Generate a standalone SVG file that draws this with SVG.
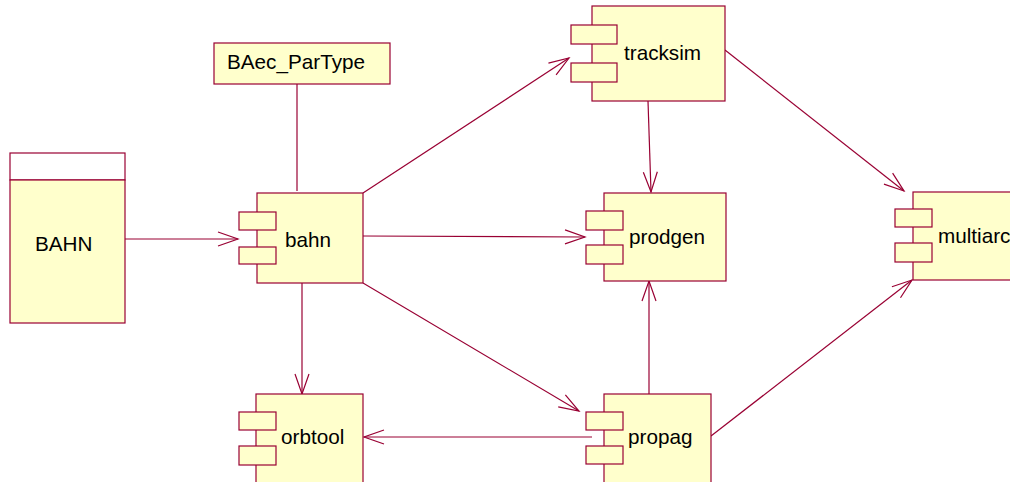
<svg xmlns="http://www.w3.org/2000/svg" width="1010" height="482" viewBox="0 0 1010 482">
<style>
.b{fill:#FFFFCC;stroke:#990033;stroke-width:1.2}
.w{fill:#FFFFFF;stroke:#990033;stroke-width:1.2}
.l{fill:none;stroke:#990033;stroke-width:1.2}
text{font-family:"Liberation Sans",Arial,sans-serif;font-size:20.7px;fill:#000}
</style>
<defs>
<marker id="a" markerUnits="userSpaceOnUse" markerWidth="30" markerHeight="30" viewBox="-25 -15 30 30" refX="0" refY="0" orient="auto" overflow="visible">
<path d="M-20,-7 L0,0 L-20,7" fill="none" stroke="#990033" stroke-width="1.2"/>
</marker>
</defs>
<g id="connectors">
<line class="l" x1="125" y1="239" x2="238" y2="239" marker-end="url(#a)"/>
<line class="l" x1="297" y1="84" x2="297" y2="191"/>
<line class="l" x1="363" y1="193" x2="569" y2="58" marker-end="url(#a)"/>
<line class="l" x1="363" y1="236" x2="585" y2="237" marker-end="url(#a)"/>
<line class="l" x1="363" y1="283" x2="579" y2="411" marker-end="url(#a)"/>
<line class="l" x1="302" y1="283" x2="302" y2="394" marker-end="url(#a)"/>
<line class="l" x1="648" y1="101" x2="651" y2="192" marker-end="url(#a)"/>
<line class="l" x1="725" y1="50" x2="904" y2="191" marker-end="url(#a)"/>
<line class="l" x1="649" y1="394" x2="649" y2="281" stroke-width="2" marker-end="url(#a)"/>
<line class="l" x1="592" y1="437" x2="364" y2="437" marker-end="url(#a)"/>
<line class="l" x1="711" y1="436" x2="912" y2="280" marker-end="url(#a)"/>
</g>
<g id="BAHN">
<rect class="w" x="10" y="153" width="115" height="27"/>
<rect class="b" x="10" y="180" width="115" height="143"/>
<text x="35" y="251">BAHN</text>
</g>
<g id="BAec_ParType">
<rect class="b" x="214" y="43" width="176" height="41"/>
<text x="227" y="69">BAec_ParType</text>
</g>
<g id="bahn">
<rect class="b" x="257" y="193" width="106" height="90"/>
<rect class="b" x="239" y="212" width="37" height="18"/>
<rect class="b" x="239" y="247" width="37" height="17"/>
<text x="285" y="247">bahn</text>
</g>
<g id="tracksim">
<rect class="b" x="592" y="6" width="133" height="95"/>
<rect class="b" x="571" y="25" width="46" height="19"/>
<rect class="b" x="571" y="63" width="46" height="19"/>
<text x="624" y="60">tracksim</text>
</g>
<g id="prodgen">
<rect class="b" x="604" y="193" width="122" height="88"/>
<rect class="b" x="586" y="211" width="37" height="19"/>
<rect class="b" x="586" y="245" width="37" height="19"/>
<text x="629" y="244">prodgen</text>
</g>
<g id="multiarc">
<rect class="b" x="913" y="192" width="110" height="88"/>
<rect class="b" x="895" y="209" width="37" height="18"/>
<rect class="b" x="895" y="243" width="37" height="19"/>
<text x="938" y="243">multiarc</text>
</g>
<g id="orbtool">
<rect class="b" x="256" y="394" width="107" height="100"/>
<rect class="b" x="239" y="412" width="37" height="18"/>
<rect class="b" x="239" y="446" width="37" height="19"/>
<text x="281" y="444">orbtool</text>
</g>
<g id="propag">
<rect class="b" x="604" y="394" width="107" height="100"/>
<rect class="b" x="586" y="412" width="37" height="18"/>
<rect class="b" x="586" y="446" width="37" height="18"/>
<text x="628" y="444">propag</text>
</g>
</svg>
